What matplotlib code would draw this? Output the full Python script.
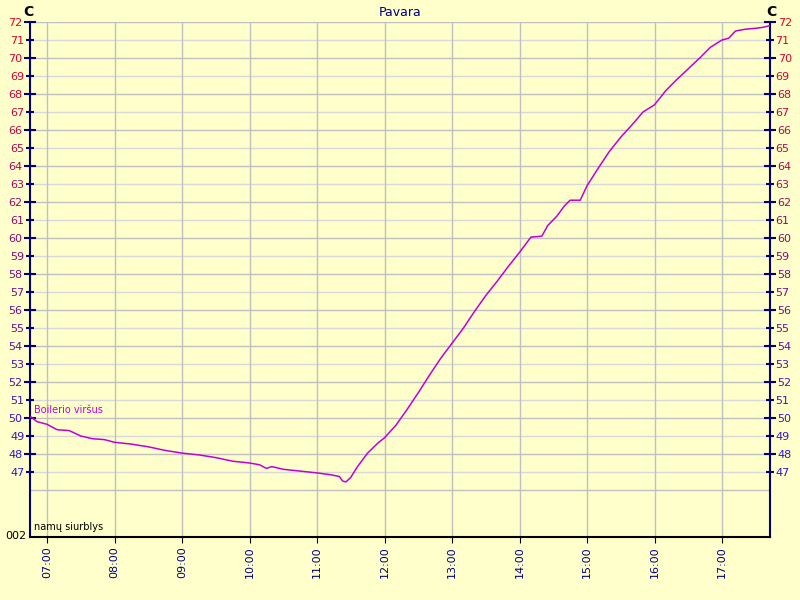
import numpy as np
import matplotlib
matplotlib.use("Agg")
import matplotlib.pyplot as plt
from matplotlib.ticker import FixedLocator, FuncFormatter

# ── Data (hours of day, temperature °C) ───────────────────────────────────────
hours = [6.75, 6.85, 7.0, 7.15, 7.33, 7.5, 7.67, 7.85, 8.0, 8.25, 8.5, 8.75,
         9.0, 9.25, 9.5, 9.75, 10.0, 10.15, 10.25, 10.33, 10.5, 10.75, 11.0,
         11.2, 11.33, 11.38, 11.43, 11.5, 11.6, 11.75, 11.9, 12.0, 12.17,
         12.33, 12.5, 12.67, 12.83, 13.0, 13.17, 13.33, 13.5, 13.67, 13.83,
         14.0, 14.1, 14.17, 14.33, 14.42, 14.55, 14.67, 14.75, 14.9, 15.0,
         15.17, 15.33, 15.5, 15.67, 15.83, 16.0, 16.17, 16.33, 16.5, 16.67,
         16.83, 17.0, 17.1, 17.2, 17.35, 17.5, 17.6, 17.71]
temps = [50.1, 49.8, 49.65, 49.35, 49.3, 49.0, 48.85, 48.8, 48.65, 48.55,
         48.4, 48.2, 48.05, 47.95, 47.8, 47.6, 47.5, 47.4, 47.2, 47.3, 47.15,
         47.05, 46.95, 46.85, 46.75, 46.5, 46.45, 46.7, 47.3, 48.05, 48.6,
         48.9, 49.6, 50.45, 51.4, 52.4, 53.3, 54.15, 55.0, 55.9, 56.8, 57.6,
         58.4, 59.2, 59.7, 60.05, 60.1, 60.7, 61.2, 61.8, 62.1, 62.1, 62.9,
         63.9, 64.8, 65.6, 66.3, 67.0, 67.4, 68.2, 68.8, 69.4, 70.0, 70.6,
         71.0, 71.1, 71.5, 71.6, 71.65, 71.7, 71.8]

hour_ticks = list(range(7, 18))
hour_labels = [f"{h:02d}:00" for h in hour_ticks]
temp_ticks = list(range(47, 73))
grid_levels = list(range(46, 73))

BG = "#FFFFCC"
NAVY = "#000080"
LINE = "#C000D8"

fig = plt.figure(figsize=(8, 6), dpi=100, facecolor=BG)
ax = fig.add_axes([30 / 800, 63 / 600, 740 / 800, 515 / 600], facecolor=BG)

x_min, x_max = 7 - 17 / 67.5, 17 + 48 / 67.5
y_top = 72
y_bot = 72 - 515 / 18
ax.set_xlim(x_min, x_max)
ax.set_ylim(y_bot, y_top)

# ── Grid ──────────────────────────────────────────────────────────────────────
for lvl in grid_levels:
    col = "#C0C0C0" if lvl % 2 == 0 else "#D8D8D8"
    ax.axhline(lvl, color=col, linewidth=1, zorder=1)
for h in hour_ticks:
    ax.axvline(h, color="#C0C0C0", linewidth=1, zorder=1)

ax.plot(hours, temps, color=LINE, linewidth=1.1, zorder=3)

# ── Axes styling ──────────────────────────────────────────────────────────────
for side in ("left", "right"):
    ax.spines[side].set_color(NAVY)
    ax.spines[side].set_linewidth(1.5)
ax.spines["top"].set_visible(False)
ax.spines["bottom"].set_color("black")
ax.spines["bottom"].set_linewidth(1.5)

even = [t for t in temp_ticks if t % 2 == 0]
odd = [t for t in temp_ticks if t % 2 == 1]
ax.yaxis.set_major_locator(FixedLocator(even))
ax.yaxis.set_minor_locator(FixedLocator(odd))
fmt = FuncFormatter(lambda v, p: f"{int(round(v))}")
ax.yaxis.set_major_formatter(fmt)
ax.yaxis.set_minor_formatter(fmt)
ax.tick_params(axis="y", which="both", direction="inout", color=NAVY,
               left=True, right=True, labelleft=True, labelright=True,
               labelsize=8, pad=1)
ax.tick_params(axis="y", which="major", length=9, width=1.5)
ax.tick_params(axis="y", which="minor", length=6, width=1.5)


def temp_color(v):
    f = (v - 47) / 25.0
    top = np.array([230, 0, 30]) / 255
    bot = np.array([40, 20, 210]) / 255
    return tuple(bot + (top - bot) * f)


fig.canvas.draw()
for tick in ax.yaxis.get_major_ticks() + ax.yaxis.get_minor_ticks():
    c = temp_color(tick.get_loc())
    tick.label1.set_color(c)
    tick.label2.set_color(c)

ax.set_xticks(hour_ticks)
ax.set_xticklabels(hour_labels, rotation=90, color=NAVY, fontsize=8,
                   va="top")
ax.tick_params(axis="x", direction="out", length=4, color="black", pad=3)

# ── Texts ─────────────────────────────────────────────────────────────────────
fig.text(0.5, 1 - 12 / 600, "Pavara", ha="center", va="center",
         color=NAVY, fontsize=9)
fig.text(28 / 800, 1 - 12 / 600, "C", ha="center", va="center",
         fontsize=10, fontweight="bold", color="black")
fig.text(771 / 800, 1 - 12 / 600, "C", ha="center", va="center",
         fontsize=10, fontweight="bold", color="black")
fig.text(34 / 800, 1 - 410 / 600, "Boilerio viršus", ha="left",
         va="center", color=LINE, fontsize=7)
fig.text(34 / 800, 1 - 527 / 600, "namų siurblys", ha="left",
         va="center", color="black", fontsize=7)
fig.text(26 / 800, 1 - 536 / 600, "002", ha="right", va="center",
         color="black", fontsize=8)

fig.savefig("out.png", dpi=100, facecolor=BG)
